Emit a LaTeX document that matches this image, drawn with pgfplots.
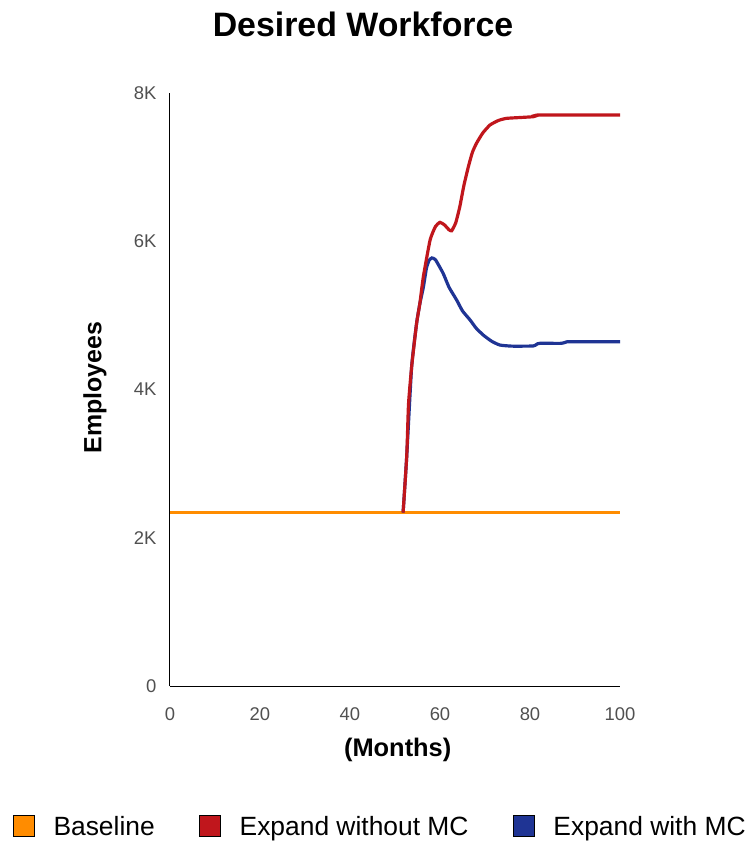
\documentclass[border=0pt]{standalone}
\usepackage{pgfplots}
\pgfplotsset{compat=1.18}
\usepackage{fontspec}
\setmainfont{Liberation Sans}
\definecolor{cbase}{HTML}{FF8C00}
\definecolor{cred}{HTML}{C0161C}
\definecolor{cblue}{HTML}{1F3494}
\definecolor{tickgray}{HTML}{505050}
\begin{document}
\begin{tikzpicture}
\begin{axis}[
  at={(0bp,0bp)}, anchor=origin,
  scale only axis, width=450bp, height=593bp,
  xmin=0, xmax=100, ymin=0, ymax=8000,
  axis x line*=bottom, axis y line*=left,
  axis line style={-, black, line width=1pt},
  xtick={0,20,40,60,80,100},
  ytick={0,2000,4000,6000,8000},
  yticklabels={0,2K,4K,6K,8K},
  scaled y ticks=false,
  major tick length=0pt,
  /pgf/number format/assume math mode=true,
  tick label style={font=\fontsize{18.5}{20}\selectfont, text=tickgray},
  xticklabel style={yshift=-18bp},
  yticklabel style={xshift=-10bp},
  title={\fontsize{34}{36}\selectfont\bfseries Desired Workforce},
  title style={at={(axis description cs:0.429,1.105)}, anchor=center},
  xlabel={\fontsize{25.5}{28}\selectfont\bfseries (Months)},
  xlabel style={at={(axis description cs:0.506,-0.108)}, anchor=center},
  ylabel={\fontsize{25}{28}\selectfont\bfseries Employees},
  ylabel style={at={(axis description cs:-0.167,0.503)}, anchor=center},
  legend columns=3,
  legend style={at={(axis description cs:0.467,-0.2375)}, anchor=center, draw=none, fill=none,
    font=\fontsize{26.5}{28}\selectfont, inner sep=0pt,
    /tikz/every odd column/.append style={column sep=17bp},
    /tikz/every even column/.append style={column sep=42bp}},
]
\addplot[cbase, line width=3pt, forget plot] coordinates {(0,2340) (100,2340)};
\addplot[cblue, line width=3.2pt, smooth, tension=0.3, forget plot] coordinates {
(51.8,2340) (52.6,3093) (53.7,4308) (54.8,4893) (55.5,5150) (56.3,5380) (57.0,5640) (57.6,5745) (58.2,5775) (59.0,5750)
(60.7,5567) (62.0,5380) (63.7,5207) (65.0,5060) (66.7,4937) (68.0,4830) (69.6,4735)
(71.5,4650) (73.3,4600) (76,4585) (80.7,4587) (81.5,4610) (82.2,4623) (87,4623) (88,4640) (89,4645) (100,4645)};
\addplot[cred, line width=3.2pt, smooth, tension=0.3, forget plot] coordinates {
(51.8,2340) (52.6,3093) (53.0,3800) (53.7,4308) (54.8,4893) (55.5,5150) (56.3,5522) (57.8,6017) (59.0,6200)
(60.0,6255) (61.0,6220) (62.0,6155) (62.6,6142) (63.5,6250) (64.4,6466) (65.3,6750)
(66.3,7005) (67.2,7200) (68.1,7321) (69.5,7460) (71.1,7568) (73.0,7630) (74.8,7658)
(78,7670) (80.7,7680) (81.5,7695) (82.2,7703) (100,7703)};
\addlegendimage{legend image code/.code={\draw[fill=cbase, draw=black, line width=0.9pt] (0bp,-10bp) rectangle (21bp,11bp);}}
\addlegendentry{Baseline}
\addlegendimage{legend image code/.code={\draw[fill=cred, draw=black, line width=0.9pt] (0bp,-10bp) rectangle (21bp,11bp);}}
\addlegendentry{Expand without MC}
\addlegendimage{legend image code/.code={\draw[fill=cblue, draw=black, line width=0.9pt] (0bp,-10bp) rectangle (21bp,11bp);}}
\addlegendentry{Expand with MC}
\end{axis}
\pgfresetboundingbox
\path[use as bounding box] (-170bp,-157bp) rectangle (579bp,686bp);
\end{tikzpicture}
\end{document}
